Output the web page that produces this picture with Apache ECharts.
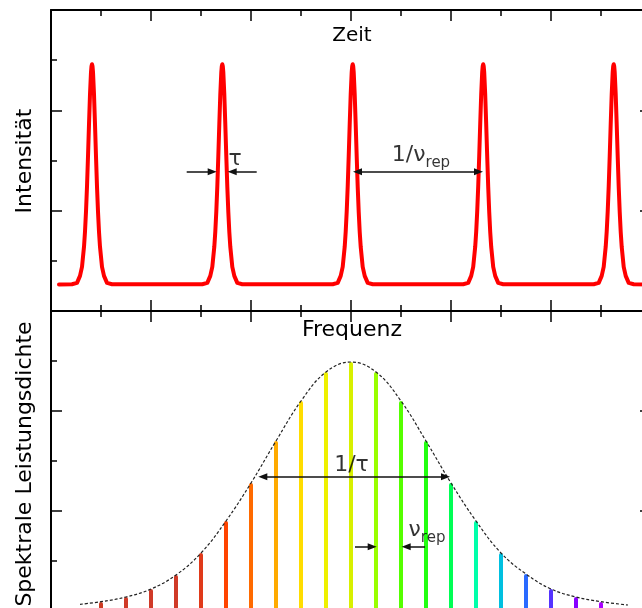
<!DOCTYPE html>
<html>
<head>
<meta charset="utf-8">
<script src="https://cdn.jsdelivr.net/npm/echarts@6/dist/echarts.min.js"></script>
<style>
html,body{margin:0;padding:0;background:#fff;overflow:hidden;width:642px;height:608px;}
#chart{width:664px;height:622px;}
</style>
</head>
<body>
<div id="chart"></div>
<script>
// ---------- data ----------
// time domain: pulse train
const pulseCenters = [0.41, 1.713, 3.017, 4.322, 5.627];
const pulseBase = 0.265;
const pulseStart = 0.08;
const pulseEnd = 6.0;
// half-profile of one pulse (offset from centre, intensity)
const pulseOffsets = [0, 0.005, 0.01, 0.02, 0.03, 0.04, 0.05, 0.06, 0.07, 0.08, 0.10, 0.12, 0.15, 0.20];
const pulseHeights = [2.46, 2.44, 2.38, 2.16, 1.86, 1.54, 1.24, 0.99, 0.79, 0.64, 0.44, 0.35, 0.28, 0.267];

// frequency domain: comb lines
const combX = [0.5, 0.75, 1.0, 1.25, 1.5, 1.75, 2.0, 2.25, 2.5, 2.75, 3.0, 3.25, 3.5, 3.75, 4.0, 4.25, 4.5, 4.75, 5.0, 5.25, 5.5];
const combHeights = [0.09, 0.14, 0.22, 0.36, 0.58, 0.90, 1.28, 1.70, 2.10, 2.39, 2.49, 2.39, 2.10, 1.70, 1.28, 0.90, 0.58, 0.37, 0.22, 0.14, 0.09];
// spectral envelope (dotted)
const envX = [0.29, 0.5, 0.75, 1.0, 1.25, 1.5, 1.75, 2.0, 2.25, 2.5, 2.75, 3.0, 3.25, 3.5, 3.75, 4.0, 4.25, 4.5, 4.75, 5.0, 5.25, 5.5, 5.77];
const envY = [0.067, 0.093, 0.14, 0.22, 0.36, 0.58, 0.90, 1.28, 1.70, 2.10, 2.39, 2.49, 2.39, 2.10, 1.70, 1.28, 0.90, 0.58, 0.37, 0.22, 0.14, 0.093, 0.06];

// annotations: arrows [from, to(tip), heads]
const timeArrows = [
  [[1.357, 1.387], [1.657, 1.387], 'end'],
  [[2.057, 1.387], [1.767, 1.387], 'end'],
  [[3.02, 1.387], [4.32, 1.387], 'both']
];
const freqArrows = [
  [[2.073, 1.343], [3.99, 1.343], 'both'],
  [[3.04, 0.643], [3.257, 0.643], 'end'],
  [[3.74, 0.643], [3.507, 0.643], 'end']
];
const timeLabels = [
  {pos: [1.84, 1.51], text: '{m|τ}'},
  {pos: [3.70, 1.555], text: '{m|1/ν}{s|rep}'}
];
const freqLabels = [
  {pos: [3.005, 1.457], text: '{m|1/τ}'},
  {pos: [3.76, 0.812], text: '{m|ν}{s|rep}'}
];

// ---------- styles ----------
const combColors = ['#cc3a22','#d03a28','#d03a28','#d03a28','#e03a1a','#ff4400','#ff6a00','#ffaa00','#ffdd00','#eef000','#d8f000','#99ff00','#55ff00','#22ff11','#00ff55','#00ffaa','#00c0e0','#2a6aff','#5533ff','#8800ff','#aa00ff'];
const FONT = '"DejaVu Sans", Verdana, sans-serif';
const HEAD = 9;       // arrow head length in px
const PX = 100;       // px per axis unit (approx)

// ---------- build series data ----------
const pulseData = [[pulseStart, pulseBase]];
pulseCenters.forEach(c => {
  for (let i = pulseOffsets.length - 1; i >= 1; i--) pulseData.push([c - pulseOffsets[i], pulseHeights[i]]);
  pulseData.push([c, pulseHeights[0]]);
  for (let i = 1; i < pulseOffsets.length; i++) pulseData.push([c + pulseOffsets[i], pulseHeights[i]]);
});
pulseData.push([pulseEnd, pulseBase]);

const combData = combX.map((x, i) => ({value: [x, combHeights[i]], itemStyle: {color: combColors[i]}}));
const envData = envX.map((x, i) => [x, envY[i]]);

function arrowLines(list) {
  const sh = HEAD / 2 / PX;
  return list.map(([a, b, heads]) => {
    const dir = Math.sign(b[0] - a[0]);
    const to = {coord: [b[0] - dir * sh, b[1]], symbol: 'triangle'};
    const from = heads === 'both'
      ? {coord: [a[0] + dir * sh, a[1]], symbol: 'triangle'}
      : {coord: [a[0], a[1]], symbol: 'none'};
    return [from, to];
  });
}
const markLineBase = {
  silent: true, animation: false,
  symbolSize: [7, HEAD],
  label: {show: false},
  emphasis: {disabled: true},
  lineStyle: {color: '#111', width: 1.5, type: 'solid'}
};
const richStyle = {
  m: {fontSize: 22, lineHeight: 22, verticalAlign: 'top', fontFamily: FONT, color: '#000', textBorderWidth: 0},
  s: {fontSize: 15, lineHeight: 15, verticalAlign: 'top', padding: [12, 0, 0, 0], fontFamily: FONT, color: '#000', textBorderWidth: 0}
};
function labelSeries(list, xi, yi) {
  return {
    type: 'scatter', xAxisIndex: xi, yAxisIndex: yi, symbolSize: 0, silent: true, z: 10,
    data: list.map(l => ({value: l.pos, label: {formatter: l.text}})),
    label: {show: true, position: 'inside', rich: richStyle, fontFamily: FONT, fontSize: 22, color: '#000', textBorderWidth: 0}
  };
}

// ---------- axes ----------
const tickStyle = {color: '#000', width: 1.5};
function xAx(grid, pos) {
  return {
    gridIndex: grid, type: 'value', min: 0, max: 6, interval: 1, position: pos,
    axisLine: {show: true, onZero: false, lineStyle: {color: '#000', width: 2}},
    axisTick: {show: true, inside: true, length: 11, lineStyle: tickStyle},
    minorTick: {show: true, splitNumber: 2, length: 6, lineStyle: tickStyle},
    axisLabel: {show: false}, splitLine: {show: false}
  };
}
function yAx(grid, pos) {
  return {
    gridIndex: grid, type: 'value', min: 0, max: 3, interval: 1, position: pos,
    axisLine: {show: true, onZero: false, lineStyle: {color: '#000', width: 2}},
    axisTick: {show: true, inside: true, length: 11, lineStyle: tickStyle},
    minorTick: {show: true, splitNumber: 2, length: 6, lineStyle: tickStyle},
    axisLabel: {show: false}, splitLine: {show: false}
  };
}

const chart = echarts.init(document.getElementById('chart'), null, {renderer: 'canvas'});
chart.setOption({
  animation: false,
  backgroundColor: '#fff',
  grid: [
    {left: 51, top: 10, width: 600, height: 301},
    {left: 51, top: 311, width: 600, height: 300}
  ],
  xAxis: [xAx(0, 'bottom'), xAx(0, 'top'), xAx(1, 'top'), xAx(1, 'bottom')],
  yAxis: [yAx(0, 'left'), yAx(0, 'right'), yAx(1, 'left'), yAx(1, 'right')],
  graphic: [
    {type: 'text', x: 352, y: 36, silent: true,
      style: {text: 'Zeit', font: '20px ' + FONT, fill: '#000', align: 'center', verticalAlign: 'middle'}},
    {type: 'text', x: 352, y: 330, silent: true,
      style: {text: 'Frequenz', font: '22px ' + FONT, fill: '#000', align: 'center', verticalAlign: 'middle'}},
    {type: 'text', x: 25.5, y: 161, rotation: Math.PI / 2, silent: true,
      style: {text: 'Intensität', font: '22px ' + FONT, fill: '#000', align: 'center', verticalAlign: 'middle'}},
    {type: 'text', x: 25.5, y: 464, rotation: Math.PI / 2, silent: true,
      style: {text: 'Spektrale Leistungsdichte', font: '22px ' + FONT, fill: '#000', align: 'center', verticalAlign: 'middle'}}
  ],
  series: [
    {
      type: 'line', xAxisIndex: 0, yAxisIndex: 0, data: pulseData, showSymbol: false, silent: true,
      lineStyle: {color: '#ff0000', width: 4, cap: 'round', join: 'round'}, z: 3,
      markLine: Object.assign({}, markLineBase, {data: arrowLines(timeArrows)})
    },
    {
      type: 'bar', xAxisIndex: 2, yAxisIndex: 2, data: combData, barWidth: 4, silent: true,
      itemStyle: {borderRadius: [2, 2, 0, 0]}, z: 2
    },
    {
      type: 'line', xAxisIndex: 2, yAxisIndex: 2, data: envData, showSymbol: false, smooth: 0.4, silent: true,
      lineStyle: {color: '#222', width: 1.2, type: [3, 2]}, z: 4,
      markLine: Object.assign({}, markLineBase, {data: arrowLines(freqArrows)})
    },
    labelSeries(timeLabels, 0, 0),
    labelSeries(freqLabels, 2, 2)
  ]
});
</script>
</body>
</html>
